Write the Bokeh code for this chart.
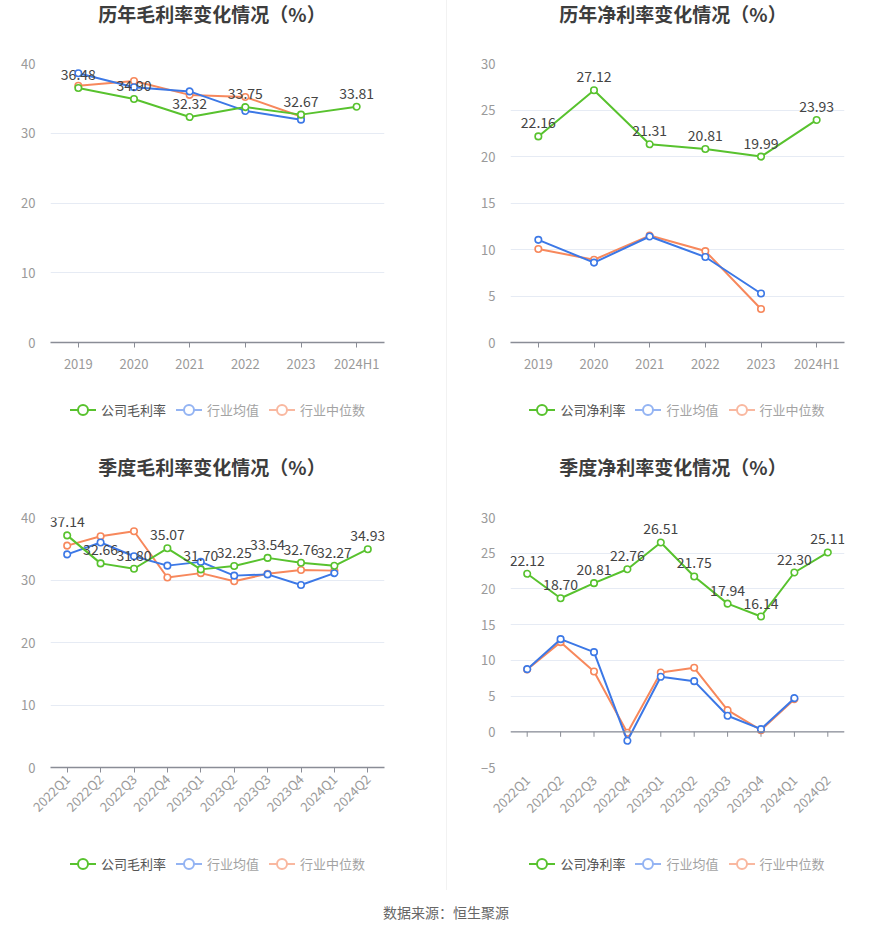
import math
from bokeh.plotting import figure
from bokeh.models import (Range1d, FactorRange, ColumnDataSource, LabelSet,
                          FixedTicker, Span, Div)
from bokeh.layouts import column, row
from bokeh.core.properties import value
from bokeh.embed import file_html
from bokeh.resources import INLINE

# ---------------- data ----------------
years = ["2019", "2020", "2021", "2022", "2023", "2024H1"]
quarters = ["2022Q1", "2022Q2", "2022Q3", "2022Q4", "2023Q1", "2023Q2",
            "2023Q3", "2023Q4", "2024Q1", "2024Q2"]

gross_company_y = [36.48, 34.90, 32.32, 33.75, 32.67, 33.81]
gross_avg_y = [38.6, 36.6, 36.0, 33.2, 31.95]
gross_median_y = [36.8, 37.5, 35.5, 35.2, 32.4]

net_company_y = [22.16, 27.12, 21.31, 20.81, 19.99, 23.93]
net_avg_y = [11.04, 8.59, 11.4, 9.19, 5.27]
net_median_y = [10.05, 8.9, 11.5, 9.83, 3.6]

gross_company_q = [37.14, 32.66, 31.80, 35.07, 31.70, 32.25, 33.54, 32.76, 32.27, 34.93]
gross_avg_q = [34.1, 36.0, 33.8, 32.3, 32.9, 30.7, 30.9, 29.2, 31.1]
gross_median_q = [35.5, 37.0, 37.8, 30.4, 31.1, 29.8, 31.0, 31.6, 31.5]

net_company_q = [22.12, 18.70, 20.81, 22.76, 26.51, 21.75, 17.94, 16.14, 22.30, 25.11]
net_avg_q = [8.77, 12.97, 11.15, -1.26, 7.7, 7.09, 2.24, 0.37, 4.71]
net_median_q = [8.73, 12.55, 8.45, -0.14, 8.3, 8.96, 3.03, 0.23, 4.57]

titles = ["历年毛利率变化情况（%）", "历年净利率变化情况（%）",
          "季度毛利率变化情况（%）", "季度净利率变化情况（%）"]
legend_gross = ["公司毛利率", "行业均值", "行业中位数"]
legend_net = ["公司净利率", "行业均值", "行业中位数"]
source_text = "数据来源：恒生聚源"

# ---------------- style ----------------
FONT = "Noto Sans CJK SC"
GREEN = "#58C22E"
BLUE = "#3C78E6"
ORANGE = "#F7885C"
LEG_ICON = ["#58C22E", "#94B4F3", "#F9B8A0"]
LEG_TEXT = ["#555555", "#A3A3A3", "#A3A3A3"]
GRID = "#E6EBF4"
AXIS = "#8A8D96"
TICK_TXT = "#9A9A9A"
PW = 446


def make_fig(cats, company, avg, median, ymin, ymax, step, left, right, top,
             bottom, fh, rotate, zero_inside):
    p = figure(x_range=FactorRange(*cats), y_range=Range1d(ymin, ymax),
               width=PW, height=top + fh + bottom, output_backend="svg",
               toolbar_location=None, margin=0,
               min_border_left=left, min_border_right=right,
               min_border_top=top, min_border_bottom=bottom)
    p.outline_line_color = None
    p.xgrid.grid_line_color = None
    p.ygrid.grid_line_color = GRID
    p.ygrid.grid_line_width = 1
    p.yaxis.ticker = FixedTicker(ticks=list(range(ymin, ymax + 1, step)))
    p.yaxis.axis_line_color = None
    p.yaxis.major_tick_line_color = None
    p.yaxis.minor_tick_line_color = None
    p.yaxis.major_label_text_color = TICK_TXT
    p.yaxis.major_label_text_font = FONT
    p.yaxis.major_label_text_font_size = "13px"
    p.yaxis.major_label_standoff = 9

    p.xaxis.major_label_text_color = TICK_TXT
    p.xaxis.major_label_text_font = FONT
    p.xaxis.major_label_text_font_size = "13px"
    if rotate:
        p.xaxis.major_label_orientation = math.pi / 4
        p.xaxis.major_label_standoff = 4
    else:
        p.xaxis.major_label_standoff = 6
    p.xaxis.minor_tick_line_color = None
    if zero_inside:
        p.xaxis.axis_line_color = None
        p.xaxis.major_tick_line_color = None
        p.add_layout(Span(location=0, dimension="width", line_color=AXIS, line_width=1.3))
        tick_len = (ymax - ymin) / fh * 5
        p.segment(x0=cats, y0=[0] * len(cats), x1=cats, y1=[-tick_len] * len(cats),
                  line_color=AXIS, line_width=1)
    else:
        p.xaxis.axis_line_color = AXIS
        p.xaxis.axis_line_width = 1.3
        p.xaxis.major_tick_line_color = AXIS
        p.xaxis.major_tick_out = 5
        p.xaxis.major_tick_in = 0

    series = [(company, GREEN), (avg, BLUE), (median, ORANGE)]
    for vals, col in reversed(series):
        src = ColumnDataSource(dict(x=cats[:len(vals)], y=vals))
        p.line("x", "y", source=src, line_color=col, line_width=2)
        p.scatter("x", "y", source=src, size=6.5, marker="circle", line_color=col,
                  line_width=1.6, fill_color="white")

    csrc = ColumnDataSource(dict(x=cats, y=company, t=["%.2f" % v for v in company]))
    p.add_layout(LabelSet(x="x", y="y", text="t", source=csrc, text_align="center",
                          text_baseline="bottom", y_offset=8, text_color="#444444",
                          text_font=value(FONT), text_font_size="14px"))
    return p


def title_div(text, height, pad_top, shift):
    pad = ("padding-right:%dpx;" % (-shift)) if shift < 0 else ("padding-left:%dpx;" % shift)
    html = ('<div style="width:%dpx;box-sizing:border-box;text-align:center;%s'
            'padding-top:%dpx;line-height:20px;font-family:\'%s\';font-size:19px;'
            'font-weight:bold;color:#3D3D3D;white-space:nowrap;">%s</div>') % (PW, pad, pad_top, FONT, text)
    return Div(text=html, width=PW, height=height, margin=0)


def legend_div(names, height, pad_top, shift):
    items = []
    for name, ic, tc in zip(names, LEG_ICON, LEG_TEXT):
        svg = ('<svg width="26" height="14" style="display:block">'
               '<line x1="0" y1="7" x2="26" y2="7" stroke="%s" stroke-width="2"/>'
               '<circle cx="13" cy="7" r="5" fill="white" stroke="%s" stroke-width="2"/>'
               '</svg>') % (ic, ic)
        items.append('<span style="display:inline-flex;align-items:center;margin:0 5px;">'
                     '%s<span style="margin-left:5px;color:%s;">%s</span></span>' % (svg, tc, name))
    pad = ("padding-right:%dpx;" % (-shift)) if shift < 0 else ("padding-left:%dpx;" % shift)
    html = ('<div style="width:%dpx;box-sizing:border-box;text-align:center;%s'
            'padding-top:%dpx;line-height:20px;font-family:\'%s\';font-size:13px;'
            'white-space:nowrap;">%s</div>') % (PW, pad, pad_top, FONT, "".join(items))
    return Div(text=html, width=PW, height=height, margin=0)


# top row: title 0..28, figure 28..375 (frame 63..343), legend 375..450
f1 = make_fig(years, gross_company_y, gross_avg_y, gross_median_y, 0, 40, 10,
              50, 62, 35, 32, 280, False, False)
f2 = make_fig(years, net_company_y, net_avg_y, net_median_y, 0, 30, 5,
              63, 49, 35, 32, 280, False, False)
# bottom row: title 450..484, figure 484..827 (frame 517..767), legend 827..890
f3 = make_fig(quarters, gross_company_q, gross_avg_q, gross_median_q, 0, 40, 10,
              50, 62, 33, 60, 250, True, False)
f4 = make_fig(quarters, net_company_q, net_avg_q, net_median_q, -5, 30, 5,
              63, 49, 33, 60, 250, True, True)

c1 = column(title_div(titles[0], 28, 4, -22), f1, legend_div(legend_gross, 75, 25, -11),
            margin=0, spacing=0)
c2 = column(title_div(titles[1], 28, 4, 6), f2, legend_div(legend_net, 75, 25, 14),
            margin=0, spacing=0, styles={"border-left": "1px solid #F2F2F2"})
c3 = column(title_div(titles[2], 34, 7, -22), f3, legend_div(legend_gross, 63, 27, -11),
            margin=0, spacing=0)
c4 = column(title_div(titles[3], 34, 7, 6), f4, legend_div(legend_net, 63, 27, 14),
            margin=0, spacing=0, styles={"border-left": "1px solid #F2F2F2"})

footer = Div(text=('<div style="width:892px;text-align:center;padding-top:12px;'
                   'line-height:20px;font-family:\'%s\';font-size:14px;color:#666666;">%s</div>')
             % (FONT, source_text), width=892, height=40, margin=0)

layout = column(row(c1, c2, margin=0, spacing=0), row(c3, c4, margin=0, spacing=0),
                footer, margin=0, spacing=0)
open("out.html", "w").write(file_html(layout, INLINE))
